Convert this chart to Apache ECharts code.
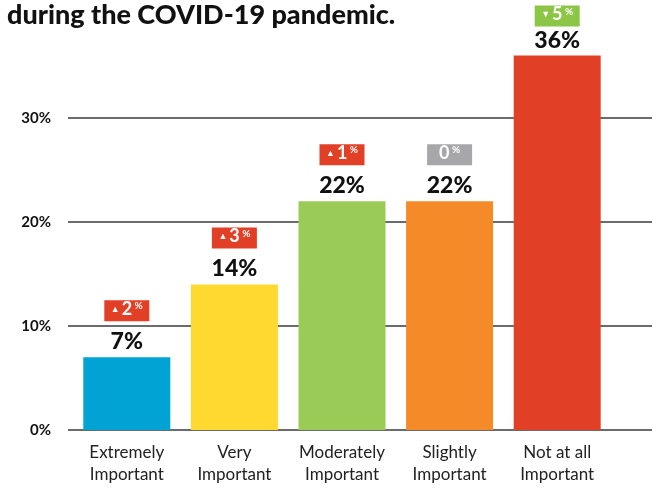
<!DOCTYPE html>
<html>
<head>
<meta charset="utf-8">
<script src="https://cdn.jsdelivr.net/npm/echarts@6/dist/echarts.min.js"></script>
<style>
  html, body { margin: 0; padding: 0; background: #fff; }
  #chart { width: 659px; height: 492px; }
</style>
</head>
<body>
<div id="chart"></div>
<script>
// Importance ratings, share of respondents (%)
const categories = ['Extremely\nImportant', 'Very\nImportant', 'Moderately\nImportant', 'Slightly\nImportant', 'Not at all\nImportant'];
const shares = [7, 14, 22, 22, 36];
// Change versus the previous survey, percentage points
const changes = [2, 3, 1, 0, -5];
const yTicks = [0, 10, 20, 30];

const barColors = ['#00A3D3', '#FFD92F', '#9ACB56', '#F58A28', '#E24026'];
const FONT = 'Lato, "Open Sans", sans-serif';

function badgeColor(v) {
  if (v > 0) return '#E24026';
  if (v < 0) return '#8DC546';
  return '#A7A7A9';
}

const badgeData = shares.map((s, i) => {
  const c = changes[i];
  const item = {
    value: s,
    change: c,
    label: { backgroundColor: badgeColor(c) }
  };
  // keep the badge of the tallest bar inside the canvas
  if (i === shares.length - 1) item.label.distance = 29;
  return item;
});

const chart = echarts.init(document.getElementById('chart'));
chart.setOption({
  animation: false,
  title: {
    text: 'during the COVID-19 pandemic.',
    left: 2,
    top: -3,
    textStyle: { fontFamily: FONT, fontWeight: 900, fontSize: 27, color: '#111' }
  },
  grid: [
    { left: 73, right: 48, top: 14, bottom: 62 },
    { left: 68, right: 7, top: 14, bottom: 62 }
  ],
  xAxis: [
    {
      gridIndex: 0,
      type: 'category',
      data: categories,
      axisLine: { show: false },
      axisTick: { show: false },
      axisLabel: {
        interval: 0,
        margin: 12,
        fontFamily: FONT,
        fontSize: 17,
        lineHeight: 22,
        color: '#222'
      }
    },
    { gridIndex: 1, type: 'value', show: false, min: 0, max: 1 }
  ],
  yAxis: [
    { gridIndex: 0, type: 'value', min: 0, max: 40, interval: 10, show: false },
    {
      gridIndex: 1,
      type: 'value',
      min: 0,
      max: 40,
      interval: 10,
      axisLine: { show: false },
      axisTick: { show: false },
      axisLabel: {
        margin: 17,
        fontFamily: FONT,
        fontWeight: 'bold',
        fontSize: 15,
        color: '#111',
        formatter: v => (yTicks.indexOf(v) >= 0 ? v + '%' : '')
      },
      splitLine: {
        lineStyle: {
          width: 1.5,
          color: ['#3a3a3a', '#3a3a3a', '#3a3a3a', '#3a3a3a', 'rgba(0,0,0,0)']
        }
      }
    }
  ],
  series: [
    {
      type: 'bar',
      xAxisIndex: 0,
      yAxisIndex: 0,
      barWidth: 87,
      data: shares.map((v, i) => ({ value: v, itemStyle: { color: barColors[i] } })),
      label: {
        show: true,
        position: 'top',
        distance: 4,
        formatter: p => p.value + '%',
        fontFamily: FONT,
        fontWeight: 900,
        fontSize: 23,
        color: '#111'
      },
      z: 3
    },
    {
      // change badges above each value label
      type: 'scatter',
      xAxisIndex: 0,
      yAxisIndex: 0,
      symbolSize: 0,
      itemStyle: { opacity: 1 },
      data: badgeData,
      label: {
        show: true,
        opacity: 1,
        position: 'top',
        distance: 36,
        width: 45,
        height: 21,
        align: 'center',
        verticalAlign: 'bottom',
        formatter: p => {
          const c = p.data.change;
          const arrow = c > 0 ? '▲' : (c < 0 ? '▼' : '');
          return (arrow ? '{tri|' + arrow + '}' : '') + '{num|' + Math.abs(c) + '}{pct| %}';
        },
        rich: {
          tri: { fontSize: 9, color: '#fff', padding: [0, 2, 0, 0], verticalAlign: 'middle' },
          num: { fontFamily: FONT, fontWeight: 'bold', fontSize: 18, color: '#fff', verticalAlign: 'middle' },
          pct: { fontFamily: FONT, fontWeight: 'bold', fontSize: 10, color: '#fff', verticalAlign: 'top', padding: [1, 0, 0, 0] }
        }
      },
      z: 4
    }
  ]
});
</script>
</body>
</html>
